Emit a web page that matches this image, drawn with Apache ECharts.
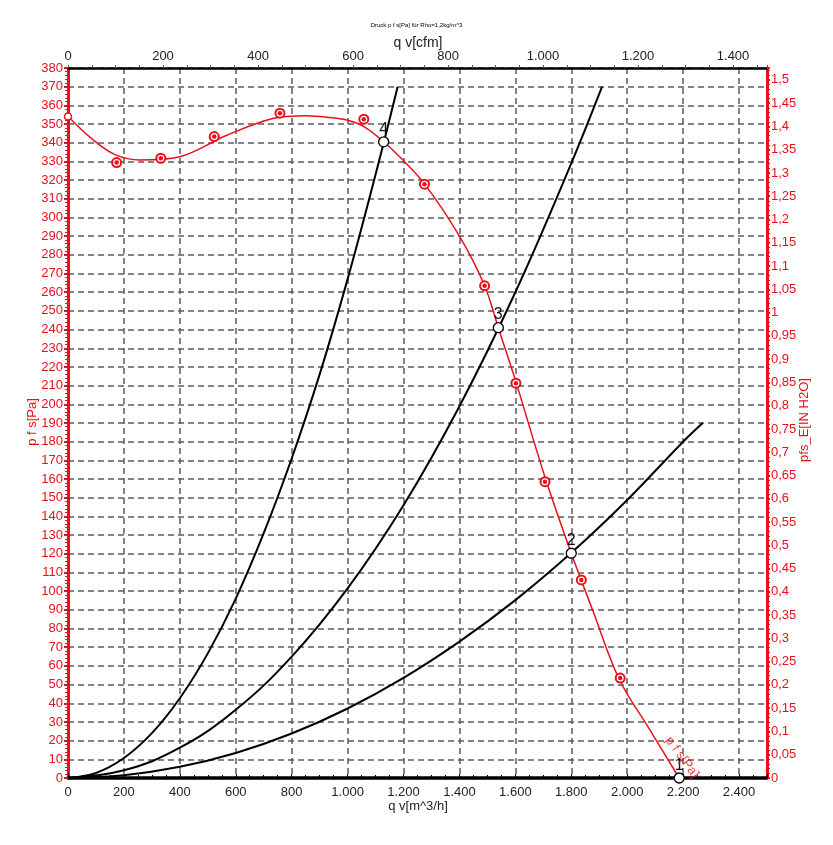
<!DOCTYPE html>
<html>
<head>
<meta charset="utf-8">
<script src="https://cdn.jsdelivr.net/npm/echarts@6/dist/echarts.min.js"></script>
<style>
html,body{margin:0;padding:0;background:#fff;}
#chart{width:833px;height:845px;}
</style>
</head>
<body>
<div id="chart"></div>
<script>
// ---- data ----
// red fan curve p f s [Pa] vs q v [m^3/h]
const fanQ = [0, 90, 170, 257, 400, 568, 732, 853, 936, 1000, 1060, 1129, 1186, 1275, 1400, 1490, 1539, 1602, 1706, 1800, 1876, 1971, 2080, 2186];
const fanP = [354, 341.5, 333.5, 330.8, 332.5, 344, 353, 354.5, 353.5, 352, 348.5, 340.5, 332.5, 318, 290, 263.5, 241, 212, 161, 120.3, 90, 53, 26, 0];
// measured points (red dotted circles)
const measQ = [174, 332, 523, 758, 1058, 1275, 1490, 1602, 1706, 1836, 1975];
const measP = [329.4, 331.7, 343.3, 355.8, 352.6, 317.8, 263.4, 211.3, 158.6, 106, 53.5];
// system curves (black)
const sys4Q = [0, 100, 200, 300, 400, 500, 600, 700, 800, 900, 1000, 1100, 1179];
const sys4P = [0, 2.7, 10.7, 24, 42.7, 66.7, 96, 131, 171, 216, 267, 323, 370];
const sys3Q = [0, 200, 400, 600, 800, 1000, 1200, 1400, 1600, 1800, 1910];
const sys3P = [0, 4.1, 16.2, 36.5, 65, 101.5, 146, 199, 260, 329, 370];
const sys2Q = [0, 200, 400, 600, 800, 1000, 1200, 1400, 1600, 1800, 2000, 2200, 2270];
const sys2P = [0, 1.5, 6, 13.4, 23.8, 37.2, 53.6, 73, 95.2, 120.5, 148.8, 180, 190];
// operating points
const opQ = [1129, 1539, 1800, 2186];
const opP = [340.5, 241, 120.3, 0];
const opLabels = ['4', '3', '2', '1'];
// curve start point
const startQ = [0];
const startP = [354];
// axis ranges
const qMax = 2500;          // m^3/h
const cfmFactor = 1.699;    // m^3/h per cfm
const pMax = 380;           // Pa
const inH2O = 249.089;      // Pa per inch H2O
const curveName = 'p f s[Pa]';
const curveLabelQ = [2196];
const curveLabelP = [11];
// axis titles
const titleText = 'Druck p f s[Pa] für Rho=1,2kg/m^3';
const xBottomName = 'q v[m^3/h]';
const xTopName = 'q v[cfm]';
const yLeftName = 'p f s[Pa]';
const yRightName = 'pfs_E[IN H2O]';

const RED = '#e8101a';
const GRIDC = '#5c5c5c';
const FONT = 'Liberation Sans, Arial, sans-serif';

const zip = (a, b) => a.map((v, i) => [v, b[i]]);
const thousands = v => {
  const s = String(Math.round(v));
  return s.replace(/\B(?=(\d{3})+(?!\d))/g, '.');
};

const chart = echarts.init(document.getElementById('chart'));
const option = {
  animation: false,
  backgroundColor: '#fff',
  textStyle: { fontFamily: FONT },
  title: {
    text: titleText,
    left: 'center', top: 17,
    textStyle: { fontSize: 6, fontWeight: 'normal', color: '#000', fontFamily: FONT }
  },
  graphic: [
    { type: 'text', x: 418, y: 43, silent: true,
      style: { text: xTopName, fill: '#222', font: '14px ' + FONT, align: 'center', verticalAlign: 'middle' } },
    { type: 'text', x: 418, y: 806, silent: true,
      style: { text: xBottomName, fill: '#222', font: '13px ' + FONT, align: 'center', verticalAlign: 'middle' } },
    { type: 'text', x: 32, y: 422, rotation: Math.PI / 2, silent: true,
      style: { text: yLeftName, fill: RED, font: '13px ' + FONT, align: 'center', verticalAlign: 'middle' } },
    { type: 'text', x: 804, y: 420, rotation: Math.PI / 2, silent: true,
      style: { text: yRightName, fill: RED, font: '13px ' + FONT, align: 'center', verticalAlign: 'middle' } }
  ],
  grid: { left: 68, right: 66, top: 68, bottom: 67, containLabel: false },
  xAxis: [
    {
      type: 'value', position: 'bottom', min: 0, max: qMax, interval: 200,
      axisLine: { onZero: false, lineStyle: { color: '#000', width: 3.5 } },
      axisTick: { show: true, inside: true, length: 4, lineStyle: { color: '#000', width: 1 } },
      minorTick: { show: true, splitNumber: 4, length: 3, lineStyle: { color: '#000' } },
      axisLabel: { showMaxLabel: false, fontSize: 13, color: '#222', margin: 8, fontFamily: FONT,
        formatter: v => (Math.abs(v % 200) < 1e-6 ? thousands(v) : '') },
      splitLine: { show: true, lineStyle: { color: GRIDC, width: 1.5, type: [6, 4] } }
    },
    {
      type: 'value', position: 'top', min: 0, max: qMax / cfmFactor, interval: 200,
      axisLine: { onZero: false, lineStyle: { color: '#000', width: 2.5 } },
      axisTick: { show: true, inside: false, length: 3, lineStyle: { color: '#555', width: 1 } },
      minorTick: { show: true, splitNumber: 4, length: 3, lineStyle: { color: '#555' } },
      axisLabel: { showMaxLabel: false, fontSize: 13, color: '#222', margin: 5, fontFamily: FONT,
        formatter: v => (Math.abs(v % 200) < 1e-6 ? thousands(v) : '') },
      splitLine: { show: false }
    }
  ],
  yAxis: [
    {
      type: 'value', position: 'left', min: 0, max: pMax, interval: 10,
      axisLine: { onZero: false, lineStyle: { color: RED, width: 3 } },
      axisTick: { show: true, length: 4, lineStyle: { color: RED, width: 2 } },
      minorTick: { show: true, splitNumber: 5, length: 3, lineStyle: { color: RED, width: 1 } },
      axisLabel: { fontSize: 13, color: RED, margin: 5, fontFamily: FONT },
      splitLine: { show: true, lineStyle: { color: GRIDC, width: 1.5, type: [6, 4] } }
    },
    {
      type: 'value', position: 'right', min: 0, max: pMax / inH2O, interval: 0.05,
      axisLine: { onZero: false, lineStyle: { color: RED, width: 3 } },
      axisTick: { show: true, length: 3, lineStyle: { color: RED, width: 2 } },
      minorTick: { show: true, splitNumber: 5, length: 3, lineStyle: { color: RED, width: 1 } },
      axisLabel: { showMaxLabel: false, fontSize: 13, color: RED, margin: 4, fontFamily: FONT,
        formatter: v => {
          const r = Math.round(v * 100) / 100;
          if (Math.abs(r * 20 - Math.round(r * 20)) > 1e-6) return '';
          return String(r).replace('.', ',');
        } },
      splitLine: { show: false }
    }
  ],
  series: [
    { type: 'line', data: zip(sys4Q, sys4P), smooth: 0.4, showSymbol: false,
      lineStyle: { color: '#000', width: 2 }, z: 3 },
    { type: 'line', data: zip(sys3Q, sys3P), smooth: 0.4, showSymbol: false,
      lineStyle: { color: '#000', width: 2 }, z: 3 },
    { type: 'line', data: zip(sys2Q, sys2P), smooth: 0.4, showSymbol: false,
      lineStyle: { color: '#000', width: 2 }, z: 3 },
    { type: 'line', data: zip(fanQ, fanP), smooth: 0.35, showSymbol: false,
      lineStyle: { color: RED, width: 1.5 }, z: 4 },
    { type: 'scatter', data: zip(measQ, measP), symbol: 'circle', symbolSize: 9,
      itemStyle: { color: '#fff', borderColor: RED, borderWidth: 2, opacity: 1 }, z: 5 },
    { type: 'scatter', data: zip(measQ, measP), symbol: 'circle', symbolSize: 4.5,
      itemStyle: { color: RED, opacity: 1 }, z: 6 },
    { type: 'scatter', data: zip(startQ, startP), symbol: 'circle', symbolSize: 7,
      itemStyle: { color: '#fff', borderColor: RED, borderWidth: 1.5, opacity: 1 }, z: 6 },
    { type: 'scatter', data: zip(opQ, opP), symbol: 'circle', symbolSize: 10,
      itemStyle: { color: '#fff', borderColor: '#000', borderWidth: 1.3, opacity: 1 }, z: 7,
      label: { show: true, position: 'top', distance: -1, fontSize: 16, color: '#111',
        fontFamily: FONT, formatter: p => opLabels[p.dataIndex] } },
    { type: 'scatter', data: zip(curveLabelQ, curveLabelP), symbolSize: 0, z: 8,
      label: { show: true, position: 'inside', rotate: -54, fontSize: 13, color: RED,
        fontFamily: FONT, formatter: () => curveName } }
  ]
};
chart.setOption(option);
</script>
</body>
</html>
